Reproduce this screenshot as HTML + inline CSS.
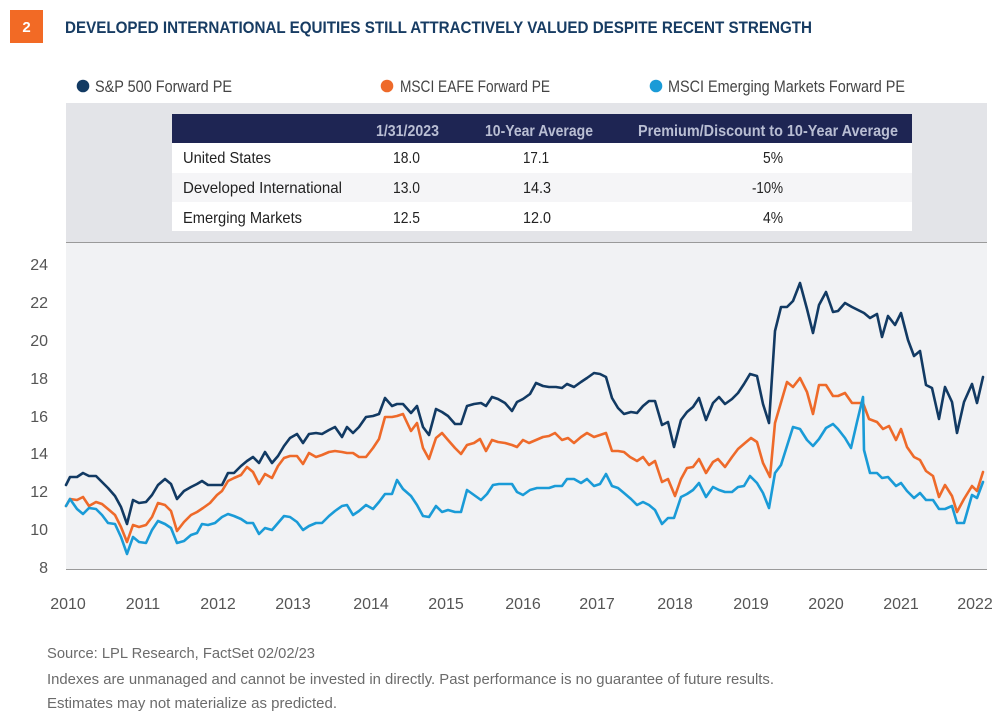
<!DOCTYPE html>
<html>
<head>
<meta charset="utf-8">
<style>
  html,body{margin:0;padding:0;background:#ffffff;}
  svg{display:block;}
  text{font-family:"Liberation Sans", sans-serif;}
</style>
</head>
<body>
<svg width="997" height="720" viewBox="0 0 997 720" xmlns="http://www.w3.org/2000/svg">
  <rect x="0" y="0" width="997" height="720" fill="#ffffff"/>

  <!-- Header badge + title -->
  <rect x="10" y="10" width="33" height="33" fill="#F26A25"/>
  <text x="26.5" y="32" font-size="15" font-weight="bold" fill="#ffffff" text-anchor="middle">2</text>
  <text x="65" y="33" font-size="17" font-weight="bold" fill="#173C63" textLength="747" lengthAdjust="spacingAndGlyphs">DEVELOPED INTERNATIONAL EQUITIES STILL ATTRACTIVELY VALUED DESPITE RECENT STRENGTH</text>

  <!-- Legend -->
  <circle cx="83" cy="86" r="6.3" fill="#123A63"/>
  <text x="95" y="92" font-size="17" fill="#444444" textLength="137" lengthAdjust="spacingAndGlyphs">S&amp;P 500 Forward PE</text>
  <circle cx="387" cy="86" r="6.3" fill="#EE6A2A"/>
  <text x="400" y="92" font-size="17" fill="#444444" textLength="150" lengthAdjust="spacingAndGlyphs">MSCI EAFE Forward PE</text>
  <circle cx="656" cy="86" r="6.3" fill="#1A9BD7"/>
  <text x="668" y="92" font-size="17" fill="#444444" textLength="237" lengthAdjust="spacingAndGlyphs">MSCI Emerging Markets Forward PE</text>

  <!-- Band behind table -->
  <rect x="66" y="103" width="921" height="139" fill="#E3E4E8"/>
  <!-- Plot background -->
  <rect x="66" y="242" width="921" height="327" fill="#F1F2F4"/>
  <line x1="66" y1="242.5" x2="987" y2="242.5" stroke="#9a9a9a" stroke-width="1"/>
  <line x1="66" y1="569.5" x2="987" y2="569.5" stroke="#9a9a9a" stroke-width="1"/>

  <!-- Table -->
  <rect x="172" y="114" width="740" height="29" fill="#1E2553"/>
  <rect x="172" y="143" width="740" height="30" fill="#ffffff"/>
  <rect x="172" y="173" width="740" height="29" fill="#F5F5F7"/>
  <rect x="172" y="202" width="740" height="29" fill="#ffffff"/>

  <g font-size="16" font-weight="bold" fill="#B9BED3">
    <text x="376" y="136" textLength="63" lengthAdjust="spacingAndGlyphs">1/31/2023</text>
    <text x="485" y="136" textLength="108" lengthAdjust="spacingAndGlyphs">10-Year Average</text>
    <text x="638" y="136" textLength="260" lengthAdjust="spacingAndGlyphs">Premium/Discount to 10-Year Average</text>
  </g>
  <g font-size="16" fill="#222222">
    <text x="183" y="163" textLength="88" lengthAdjust="spacingAndGlyphs">United States</text>
    <text x="183" y="193" textLength="159" lengthAdjust="spacingAndGlyphs">Developed International</text>
    <text x="183" y="223" textLength="119" lengthAdjust="spacingAndGlyphs">Emerging Markets</text>

    <text x="393" y="163" textLength="27" lengthAdjust="spacingAndGlyphs">18.0</text>
    <text x="393" y="193" textLength="27" lengthAdjust="spacingAndGlyphs">13.0</text>
    <text x="393" y="223" textLength="27" lengthAdjust="spacingAndGlyphs">12.5</text>

    <text x="523" y="163" textLength="26" lengthAdjust="spacingAndGlyphs">17.1</text>
    <text x="523" y="193" textLength="28" lengthAdjust="spacingAndGlyphs">14.3</text>
    <text x="523" y="223" textLength="28" lengthAdjust="spacingAndGlyphs">12.0</text>

    <text x="763" y="163" textLength="20" lengthAdjust="spacingAndGlyphs">5%</text>
    <text x="752" y="193" textLength="31" lengthAdjust="spacingAndGlyphs">-10%</text>
    <text x="763" y="223" textLength="20" lengthAdjust="spacingAndGlyphs">4%</text>
  </g>

  <!-- Y axis labels -->
  <g font-size="16" fill="#555555" text-anchor="end">
    <text x="48" y="270">24</text>
    <text x="48" y="308">22</text>
    <text x="48" y="346">20</text>
    <text x="48" y="384">18</text>
    <text x="48" y="422">16</text>
    <text x="48" y="459">14</text>
    <text x="48" y="497">12</text>
    <text x="48" y="535">10</text>
    <text x="48" y="573">8</text>
  </g>

  <!-- X axis labels -->
  <g font-size="16" fill="#555555" text-anchor="middle">
    <text x="68" y="609">2010</text>
    <text x="143" y="609">2011</text>
    <text x="218" y="609">2012</text>
    <text x="293" y="609">2013</text>
    <text x="371" y="609">2014</text>
    <text x="446" y="609">2015</text>
    <text x="523" y="609">2016</text>
    <text x="597" y="609">2017</text>
    <text x="675" y="609">2018</text>
    <text x="751" y="609">2019</text>
    <text x="826" y="609">2020</text>
    <text x="901" y="609">2021</text>
    <text x="975" y="609">2022</text>
  </g>

  <!-- Series -->
  <g fill="none" stroke-width="2.6" stroke-linejoin="round" stroke-linecap="round">
    <polyline stroke="#123A63" points="66,485 70,477 77,477 83,473 89,476 96,476 102,482 108,488 115,496 121,507 127,524 133,500 139,503 146,502 152,495 158,485 165,479 171,484 177,499 184,491 191,487 197,484 202,481 208,485 215,485 222,485 228,473 234,473 241,466 247,461 253,457 259,463 265,452 272,463 278,456 284,446 290,438 297,434 303,443 309,434 316,433 322,434 329,430 335,427 342,437 347,427 353,433 359,427 366,417 373,416 379,414 385,398 392,406 397,404 403,404 411,413 417,406 423,427 429,435 436,409 442,412 448,416 455,424 461,424 467,406 474,404 481,403 486,406 492,397 498,399 505,403 512,411 517,402 523,399 530,394 536,383 543,386 549,387 556,387 562,388 567,384 574,387 581,382 587,378 594,373 600,374 606,377 612,398 618,408 624,414 631,412 637,413 643,406 649,401 655,401 662,425 668,422 674,447 681,420 687,412 693,407 699,398 706,420 713,403 719,397 725,404 732,399 738,393 744,384 750,374 757,376 763,404 769,423 775,331 781,307 787,307 793,301 800,283 807,309 813,333 819,305 826,292 833,312 838,311 845,303 852,307 858,310 864,313 870,318 877,314 882,337 888,316 895,325 901,313 908,340 914,356 920,351 926,385 932,388 939,419 945,387 952,402 957,433 964,402 972,384 977,403 983,377"/>
    <polyline stroke="#EE6A2A" points="66,506 70,499 77,500 83,497 89,506 96,502 102,504 108,509 115,515 121,527 127,542 133,525 139,527 146,525 152,517 158,503 165,505 171,511 177,531 184,522 191,515 197,512 203,508 210,503 217,495 222,491 228,481 234,478 241,475 247,467 253,472 259,484 265,474 272,478 278,466 284,458 290,456 297,456 303,464 309,453 316,457 322,455 329,452 335,451 342,452 347,453 353,453 359,457 366,457 373,448 379,439 385,417 392,417 397,416 403,414 411,431 417,423 423,448 429,459 436,438 442,433 448,440 455,448 461,454 467,445 474,443 480,439 486,451 492,440 498,442 505,443 512,445 517,447 523,440 529,443 536,440 543,437 549,436 555,433 562,440 568,438 574,443 581,437 587,433 594,437 600,435 606,433 612,451 618,451 624,452 630,457 637,461 643,457 649,465 655,461 662,482 668,479 675,496 681,479 687,468 693,467 699,459 706,473 713,462 718,459 725,467 732,457 738,449 745,443 751,438 757,442 763,463 770,477 775,423 782,399 787,382 793,387 800,378 807,392 813,414 819,385 826,385 833,396 838,396 845,393 852,403 858,403 863,403 869,419 877,422 883,429 889,426 896,440 901,429 907,447 914,457 920,460 926,471 933,476 939,497 945,485 952,496 957,512 964,499 972,486 977,491 983,472"/>
    <polyline stroke="#1A9BD7" points="66,506 70,499 77,509 83,514 89,508 96,509 102,515 108,523 115,524 121,537 127,554 133,537 139,542 146,543 152,530 158,521 165,524 171,528 177,543 184,541 191,535 197,533 202,524 208,525 215,523 222,517 228,514 234,516 241,519 247,523 253,523 259,534 265,528 272,530 278,523 284,516 290,517 297,522 303,530 309,526 316,523 322,523 329,516 335,511 342,506 347,505 353,515 359,511 366,505 373,509 379,502 385,494 392,494 397,480 403,489 411,496 417,505 423,516 429,517 436,506 442,512 448,510 455,512 461,512 467,490 474,495 481,500 487,494 493,485 499,484 506,484 512,484 517,492 523,495 530,490 537,488 543,488 549,488 555,486 562,486 567,479 574,479 581,483 587,479 594,486 600,484 606,474 612,486 618,488 624,493 631,499 637,505 643,502 649,505 655,510 662,524 668,518 674,518 681,497 687,494 693,490 699,483 706,497 713,487 719,490 725,492 732,492 738,487 744,486 750,476 757,483 763,493 769,508 775,473 781,465 787,446 793,427 800,429 807,440 813,446 819,439 826,428 833,424 838,429 845,438 851,448 857,422 863,397 864,450 870,473 877,473 882,478 888,477 896,486 901,483 907,491 914,498 920,493 926,500 933,500 939,509 945,509 952,506 957,523 964,523 972,495 977,498 983,482"/>
  </g>

  <!-- Footer -->
  <g font-size="15" fill="#6b6b6b">
    <text x="47" y="658" textLength="268" lengthAdjust="spacingAndGlyphs">Source: LPL Research, FactSet  02/02/23</text>
    <text x="47" y="684" textLength="727" lengthAdjust="spacingAndGlyphs">Indexes are unmanaged and cannot be invested in directly. Past performance is no guarantee of future results.</text>
    <text x="47" y="708" textLength="290" lengthAdjust="spacingAndGlyphs">Estimates may not materialize as predicted.</text>
  </g>
</svg>
</body>
</html>
